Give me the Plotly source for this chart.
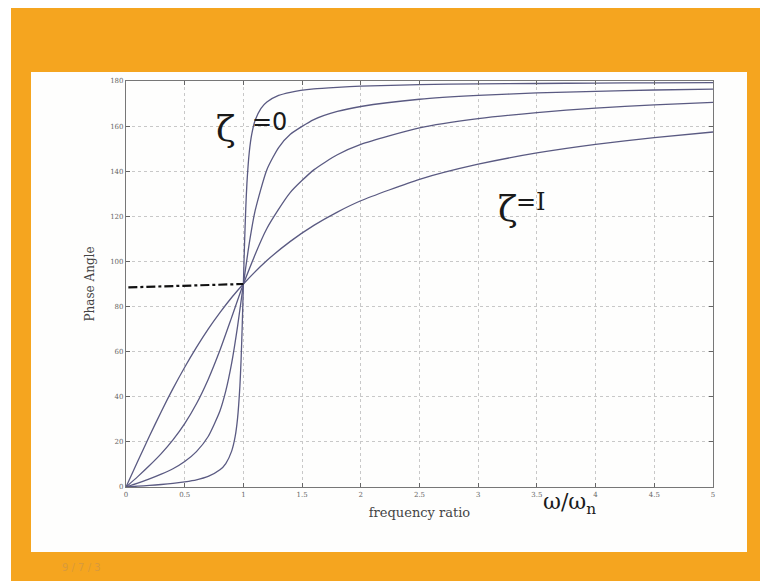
import plotly.graph_objects as go

# frequency ratio samples and phase angles (degrees)
r_wide = [0, 0.1, 0.2, 0.3, 0.4, 0.5, 0.6, 0.7, 0.8, 0.9, 1.0, 1.2, 1.4, 1.6, 1.8, 2.0, 2.5, 3.0, 3.5, 4.0, 4.5, 5.0]
phase_z1 = [0, 11.4, 22.6, 33.4, 43.6, 53.1, 61.9, 70.0, 77.3, 84.0, 90, 100.4, 108.9, 116.0, 121.9, 126.9, 136.4, 143.1, 148.1, 151.9, 154.9, 157.4]
phase_z04 = [0, 4.6, 9.5, 14.8, 20.9, 28.1, 36.9, 47.7, 60.6, 75.2, 90, 114.6, 130.6, 140.6, 147.3, 151.9, 159.2, 163.3, 166.0, 168.0, 169.4, 170.5]

r_mid = [0, 0.1, 0.2, 0.3, 0.4, 0.5, 0.6, 0.7, 0.8, 0.85, 0.9, 0.95, 1.0, 1.05, 1.1, 1.2, 1.3, 1.4, 1.6, 1.8, 2.0, 2.5, 3.0, 3.5, 4.0, 4.5, 5.0]
phase_z015 = [0, 1.7, 3.6, 5.7, 8.1, 11.3, 15.7, 22.4, 33.7, 42.6, 54.9, 71.1, 90, 108.0, 122.5, 140.7, 150.5, 156.4, 162.9, 166.5, 168.7, 171.9, 173.6, 174.7, 175.4, 176.0, 176.4]

r_fine = [0, 0.1, 0.2, 0.3, 0.4, 0.5, 0.6, 0.7, 0.8, 0.85, 0.9, 0.93, 0.95, 0.97, 0.98, 0.99, 1.0, 1.01, 1.02, 1.03, 1.05, 1.07, 1.1, 1.15, 1.2, 1.3, 1.4, 1.6, 1.8, 2.0, 2.5, 3.0, 3.5, 4.0, 4.5, 5.0]
phase_z0 = [0, 0.35, 0.7, 1.1, 1.6, 2.3, 3.2, 4.7, 7.6, 10.4, 15.9, 22.4, 30.3, 44.6, 56.0, 71.5, 90, 108.4, 123.4, 134.6, 148.4, 156.1, 162.6, 167.9, 170.7, 173.6, 175.0, 176.5, 177.2, 177.7, 178.4, 178.7, 178.9, 179.1, 179.2, 179.3]

# hand-drawn marker line at 90 degrees
mark_x = [0.02, 1.0]
mark_y = [88.5, 90]

x_ticks = [0, 0.5, 1, 1.5, 2, 2.5, 3, 3.5, 4, 4.5, 5]
x_tick_text = ["0", "0.5", "1", "1.5", "2", "2.5", "3", "3.5", "4", "4.5", "5"]
y_ticks = [0, 20, 40, 60, 80, 100, 120, 140, 160, 180]

line_col = "#5a5a82"
fig = go.Figure()
for xs, ys in [(r_wide, phase_z1), (r_wide, phase_z04), (r_mid, phase_z015), (r_fine, phase_z0)]:
    fig.add_trace(go.Scatter(x=xs, y=ys, mode="lines", line=dict(color=line_col, width=1.3, shape="spline", smoothing=0.6),
                             showlegend=False, hoverinfo="skip"))
fig.add_trace(go.Scatter(x=mark_x, y=mark_y, mode="lines", line=dict(color="#111111", width=2.2, dash="dashdot"),
                         showlegend=False, hoverinfo="skip"))

OFF = 8  # page body margin
W, H = 768 - OFF, 581 - OFF
L, R, T, B = 126 - OFF, 55, 81 - OFF, 94
pw, ph = W - L - R, H - T - B
def px(x):
    return (x - OFF - L) / pw
def py(y):
    return (H - B - (y - OFF)) / ph

shapes = [
    dict(type="rect", xref="paper", yref="paper", x0=px(11), x1=px(770), y0=py(585), y1=py(6),
         fillcolor="#F5A51F", line=dict(width=0), layer="below"),
    dict(type="rect", xref="paper", yref="paper", x0=px(31), x1=px(747), y0=py(552), y1=py(72),
         fillcolor="#FEFEFD", line=dict(width=0), layer="below"),
]

axis_common = dict(showline=True, linecolor="#777777", linewidth=1.2, mirror="ticks",
                   ticks="inside", ticklen=4, tickcolor="#666666",
                   showgrid=True, gridcolor="#c8c8c8", griddash="dot", gridwidth=1,
                   zeroline=False, tickfont=dict(family="DejaVu Serif", size=7, color="#666666"))

fig.update_layout(
    width=W, height=H, margin=dict(l=L, r=R, t=T, b=B),
    paper_bgcolor="white", plot_bgcolor="white",
    shapes=shapes,
    xaxis=dict(range=[0, 5], tickvals=x_ticks, ticktext=x_tick_text,
               title=dict(text="frequency ratio", font=dict(family="DejaVu Serif", size=13, color="#444444"), standoff=10),
               **axis_common),
    yaxis=dict(range=[0, 180], tickvals=y_ticks,
               title=dict(text="Phase Angle", font=dict(family="DejaVu Serif", size=12, color="#444444"), standoff=12),
               **axis_common),
    annotations=[
        dict(xref="paper", yref="paper", x=px(214), y=py(106), text="ζ", showarrow=False,
             font=dict(family="DejaVu Serif", size=36, color="#1a1a1a")),
        dict(xref="paper", yref="paper", x=px(250), y=py(106), text="=0", showarrow=False,
             font=dict(family="DejaVu Sans", size=24, color="#1a1a1a")),
        dict(xref="paper", yref="paper", x=px(520), y=py(186), text="ζ", showarrow=False,
             font=dict(family="DejaVu Serif", size=36, color="#1a1a1a")),
        dict(xref="paper", yref="paper", x=px(548), y=py(186), text="=I", showarrow=False,
             font=dict(family="DejaVu Serif", size=24, color="#1a1a1a")),
        dict(xref="paper", yref="paper", x=px(598), y=py(520), text="ω/ω<sub>n</sub>", showarrow=False,
             font=dict(family="DejaVu Serif", size=22, color="#1a1a1a")),
        dict(xref="paper", yref="paper", x=px(60), y=py(575), text="9 / 7 / 3", showarrow=False,
             font=dict(family="DejaVu Sans", size=10, color="#d99a3a")),
    ],
)

fig.write_html("out.html")
